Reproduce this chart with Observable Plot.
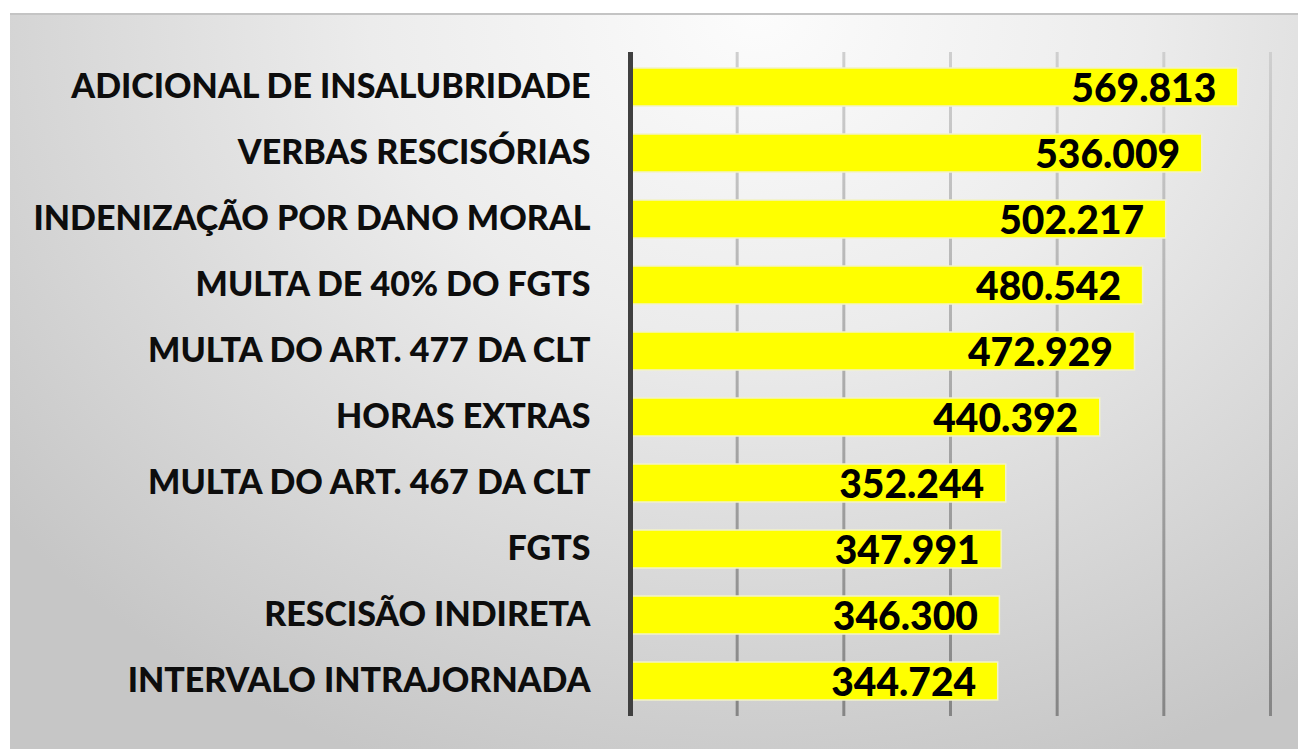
<!DOCTYPE html>
<html>
<head>
<meta charset="utf-8">
<script src="https://cdn.jsdelivr.net/npm/d3@7"></script>
<script src="https://cdn.jsdelivr.net/npm/@observablehq/plot@0.6"></script>
<style>
  html, body { margin: 0; padding: 0; background: #ffffff; }
  #panel {
    position: absolute; left: 10px; top: 13px; width: 1288px; height: 736px;
    border-top: 2px solid #c4c4c4; box-sizing: border-box;
    background: radial-gradient(ellipse 75% 110% at 58% 0%, #fcfcfc 0%, #ececec 40%, #d6d6d6 75%, #c6c6c6 100%);
  }
  #panel svg { position: absolute; left: 0; top: -2px; background: transparent; }
</style>
</head>
<body>
<div id="panel"></div>
<script>
const categories = [
  "ADICIONAL DE INSALUBRIDADE",
  "VERBAS RESCISÓRIAS",
  "INDENIZAÇÃO POR DANO MORAL",
  "MULTA DE 40% DO FGTS",
  "MULTA DO ART. 477 DA CLT",
  "HORAS EXTRAS",
  "MULTA DO ART. 467 DA CLT",
  "FGTS",
  "RESCISÃO INDIRETA",
  "INTERVALO INTRAJORNADA"
];
const values = [569813, 536009, 502217, 480542, 472929, 440392, 352244, 347991, 346300, 344724];
const gridTicks = [100000, 200000, 300000, 400000, 500000, 600000];

const data = categories.map((c, i) => ({category: c, value: values[i]}));
const fmt = d3.formatLocale({decimal: ",", thousands: ".", grouping: [3], currency: ["", ""]}).format(",d");

const font = "Lato, 'Open Sans', sans-serif";

const chart = Plot.plot({
  width: 1288,
  height: 736,
  marginLeft: 620,
  marginRight: 28,
  marginTop: 39,
  marginBottom: 33,
  style: {background: "transparent", fontFamily: font},
  x: {domain: [0, 600000], axis: null},
  y: {domain: categories, paddingInner: 0.42, paddingOuter: 0.21, label: null},
  marks: [
    Plot.ruleX(gridTicks, {stroke: "url(#gridGrad)", strokeWidth: 3}),
    Plot.barX(data, {y: "category", x: "value", fill: "#ffff00", stroke: "#f2f2c8", strokeWidth: 1.5}),
    Plot.ruleX([0], {stroke: "#404040", strokeWidth: 5}),
    Plot.text(data, {y: "category", x: "value", text: d => fmt(d.value), textAnchor: "end", dx: -22, dy: 2,
      fontSize: 39, fontWeight: 900, fill: "#000000", fontFamily: font}),
    Plot.axisY({tickSize: 0, tickPadding: 40, fontSize: 34, fontWeight: 900, fill: "#0d0d0d", fontFamily: font, label: null})
  ]
});

const ns = "http://www.w3.org/2000/svg";
const defs = document.createElementNS(ns, "defs");
const grad = document.createElementNS(ns, "linearGradient");
grad.setAttribute("id", "gridGrad");
grad.setAttribute("gradientUnits", "userSpaceOnUse");
grad.setAttribute("x1", "0"); grad.setAttribute("x2", "0");
grad.setAttribute("y1", "39"); grad.setAttribute("y2", "703");
[["0", "#cfcfcf"], ["0.5", "#ababab"], ["1", "#858585"]].forEach(([o, c]) => {
  const s = document.createElementNS(ns, "stop");
  s.setAttribute("offset", o); s.setAttribute("stop-color", c);
  grad.appendChild(s);
});
defs.appendChild(grad);
chart.insertBefore(defs, chart.firstChild);

document.getElementById("panel").appendChild(chart);
</script>
</body>
</html>
